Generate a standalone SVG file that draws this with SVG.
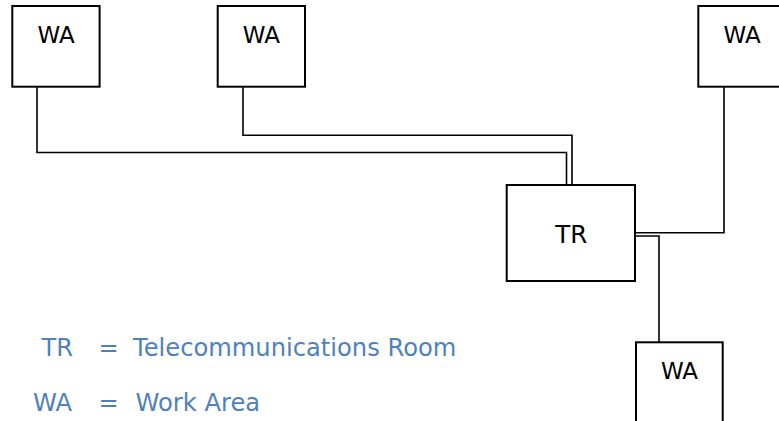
<svg xmlns="http://www.w3.org/2000/svg" width="779" height="421" viewBox="0 0 779 421">
<style>
.box{fill:#fff;stroke:#000;stroke-width:2}
.lbl{font-family:"DejaVu Sans",Verdana,sans-serif;fill:#000;text-anchor:middle}
.wa{font-size:23px}
.tr{font-size:24.5px}
.conn{fill:none;stroke:#000;stroke-width:1.6}
.leg{font-family:"DejaVu Sans",Verdana,sans-serif;font-size:24.2px;fill:#4F81BD}
</style>
<rect width="779" height="421" fill="#fff"/>
<g id="connectors">
<path class="conn" d="M37,87 V152.5 H566.5 V185"/>
<path class="conn" d="M243,87 V135.3 H572 V185"/>
<path class="conn" d="M724,87 V232.7 H635"/>
<path class="conn" d="M659,342.3 V236 H635"/>
</g>
<g id="wa1"><rect class="box" x="12.3" y="6" width="87.3" height="80.7"/><text class="lbl wa" x="56.2" y="42.7">WA</text></g>
<g id="wa2"><rect class="box" x="217.7" y="6" width="87.3" height="80.7"/><text class="lbl wa" x="261.4" y="42.7">WA</text></g>
<g id="wa3"><rect class="box" x="698.3" y="6" width="87.3" height="80.7"/><text class="lbl wa" x="742.2" y="42.7">WA</text></g>
<g id="tr"><rect class="box" x="506.7" y="185" width="128.3" height="96"/><text class="lbl tr" x="571.2" y="242.7">TR</text></g>
<g id="wa4"><rect class="box" x="636" y="342.3" width="86.7" height="90"/><text class="lbl wa" x="679.5" y="379">WA</text></g>
<g id="legend">
<text class="leg" x="41.5" y="355.7">TR</text><text class="leg" x="98.5" y="355.7">=</text><text class="leg" x="133" y="355.7">Telecommunications Room</text>
<text class="leg" x="33" y="410.7">WA</text><text class="leg" x="98.5" y="410.7">=</text><text class="leg" x="135.5" y="410.7">Work Area</text>
</g>
</svg>
